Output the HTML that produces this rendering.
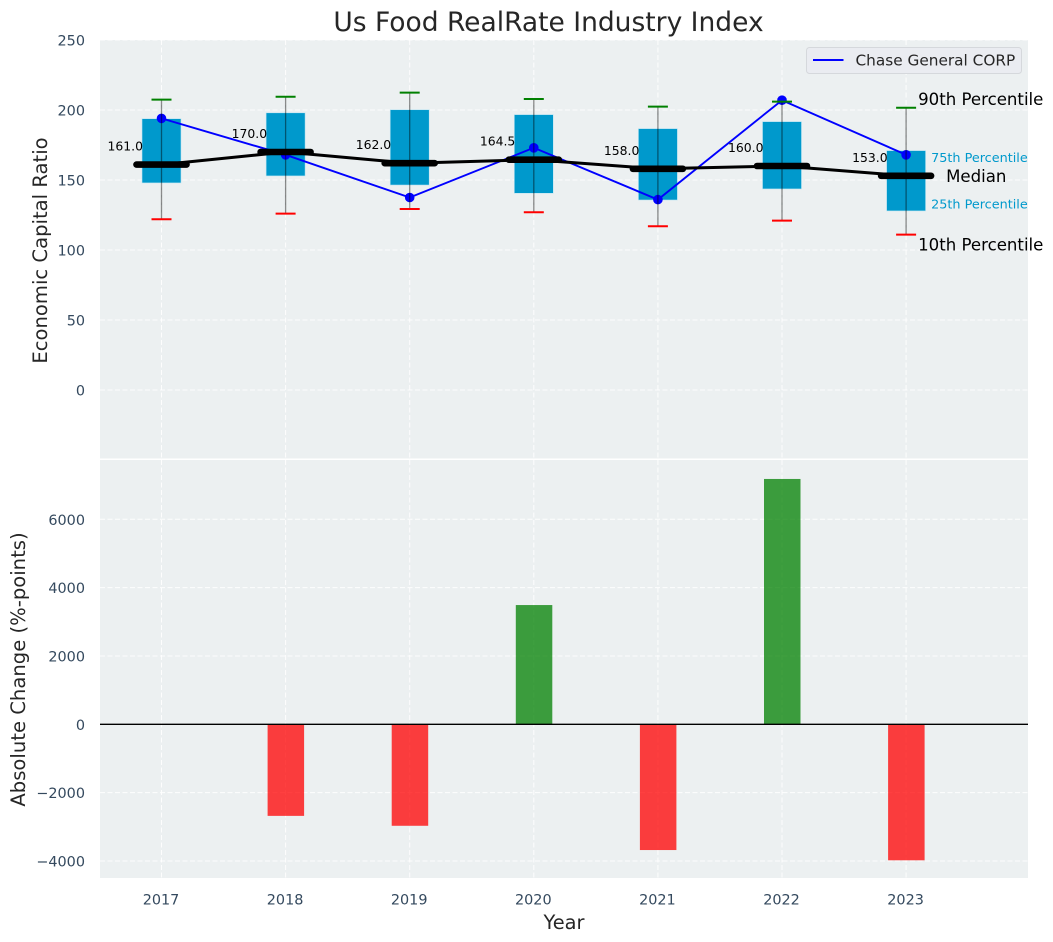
<!DOCTYPE html>
<html>
<head>
<meta charset="utf-8">
<title>Us Food RealRate Industry Index</title>
<style>
html,body{margin:0;padding:0;background:#fff;}
svg{display:block;font-family:"DejaVu Sans","Liberation Sans",sans-serif;}
</style>
</head>
<body>
<svg id="chart" width="1053" height="942" viewBox="0 0 1053 942" xmlns="http://www.w3.org/2000/svg"></svg>
<script>
const years = [2017, 2018, 2019, 2020, 2021, 2022, 2023];
const p90 = [207.4, 209.5, 212.4, 207.9, 202.4, 206, 201.6];
const q3 = [193.8, 198, 200.2, 196.7, 186.7, 191.7, 171];
const median = [161.0, 170.0, 162.0, 164.5, 158.0, 160.0, 153.0];
const q1 = [147.9, 152.9, 146.4, 140.5, 135.7, 143.6, 127.9];
const p10 = [122, 126, 129.3, 127, 117, 121, 111];
const company = [194, 168, 137.5, 173, 136, 207, 168];
const change = [0, -2680, -2970, 3490, -3680, 7180, -3980];
const topTicks = [0, 50, 100, 150, 200, 250];
const bottomTicks = [-4000, -2000, 0, 2000, 4000, 6000];
const companyName = 'Chase General CORP';

const NS = 'http://www.w3.org/2000/svg';
const svg = document.getElementById('chart');
const L = 100, R = 1028;
const topAxis = {t: 40, b: 458.5};
const botAxis = {t: 460, b: 878};
const x = v => 161.5 + (v - 2017) * 124.1;
const yTop = v => 390 - v * 1.4;
const yBot = v => 724.3 - v * 0.03417;

function mk(tag, attrs, name, parent) {
  const el = document.createElementNS(NS, tag);
  for (const k in attrs) el.setAttribute(k, attrs[k]);
  
  
  (parent || svg).appendChild(el);
  return el;
}
function txt(content, attrs, name, parent) {
  const el = mk('text', attrs, name, parent);
  el.textContent = content;
  return el;
}

// panels
mk('rect', {x: L, y: topAxis.t, width: R - L, height: topAxis.b - topAxis.t, fill: '#ecf0f1'}, 'top-panel-background');
mk('rect', {x: L, y: botAxis.t, width: R - L, height: botAxis.b - botAxis.t, fill: '#ecf0f1'}, 'bottom-panel-background');

// grid
const dash = '5,2.5';
years.forEach(function (yr) {
  mk('line', {x1: x(yr), x2: x(yr), y1: topAxis.t, y2: topAxis.b, stroke: '#fff', 'stroke-width': 1, 'stroke-dasharray': dash, opacity: 0.9}, 'top-vertical-gridline-' + yr);
  mk('line', {x1: x(yr), x2: x(yr), y1: botAxis.t, y2: botAxis.b, stroke: '#fff', 'stroke-width': 1, 'stroke-dasharray': dash, opacity: 0.9}, 'bottom-vertical-gridline-' + yr);
  txt(String(yr), {x: x(yr) - 0.5, y: 904.5, 'text-anchor': 'middle', 'font-size': 14.4, fill: '#34495e'}, 'x-tick-label-' + yr);
});
topTicks.forEach(function (t) {
  mk('line', {x1: L, x2: R, y1: yTop(t), y2: yTop(t), stroke: '#fff', 'stroke-width': 1, 'stroke-dasharray': dash, opacity: 0.9}, 'top-horizontal-gridline-' + t);
  txt(String(t), {x: 85, y: yTop(t) + 5.3, 'text-anchor': 'end', 'font-size': 14.4, fill: '#34495e'}, 'top-y-tick-label-' + t);
});
bottomTicks.forEach(function (t) {
  mk('line', {x1: L, x2: R, y1: yBot(t), y2: yBot(t), stroke: '#fff', 'stroke-width': 1, 'stroke-dasharray': dash, opacity: 0.9}, 'bottom-horizontal-gridline-' + t);
  txt(String(t).replace('-', '\u2212'), {x: 85, y: yBot(t) + 5.5, 'text-anchor': 'end', 'font-size': 14.4, fill: '#34495e'}, 'bottom-y-tick-label-' + t);
});

// boxes
years.forEach(function (yr, i) {
  mk('rect', {x: x(yr) - 19.5, y: yTop(q3[i]), width: 39, height: yTop(q1[i]) - yTop(q3[i]), fill: '#0099cc', stroke: '#bfe5f2', 'stroke-width': 0.6}, 'box-' + yr);
});

// company line
mk('polyline', {points: years.map(function (yr, i) { return x(yr) + ',' + yTop(company[i]); }).join(' '), fill: 'none', stroke: '#0000ff', 'stroke-width': 1.9}, 'company-line');
years.forEach(function (yr, i) {
  mk('circle', {cx: x(yr), cy: yTop(company[i]), r: 4.8, fill: '#0000ff'}, 'company-point-' + yr);
});

// whiskers and caps
years.forEach(function (yr, i) {
  mk('line', {x1: x(yr), x2: x(yr), y1: yTop(p90[i]), y2: yTop(p10[i]), stroke: '#000', 'stroke-opacity': 0.45, 'stroke-width': 1.3}, 'whisker-' + yr);
  mk('line', {x1: x(yr) - 10, x2: x(yr) + 10, y1: yTop(p90[i]), y2: yTop(p90[i]), stroke: '#008000', 'stroke-width': 2}, 'p90-cap-' + yr);
  mk('line', {x1: x(yr) - 10, x2: x(yr) + 10, y1: yTop(p10[i]), y2: yTop(p10[i]), stroke: '#ff0000', 'stroke-width': 2}, 'p10-cap-' + yr);
});

// median line
mk('polyline', {points: years.map(function (yr, i) { return x(yr) + ',' + yTop(median[i]); }).join(' '), fill: 'none', stroke: '#000', 'stroke-width': 3}, 'median-line');
years.forEach(function (yr, i) {
  mk('line', {x1: x(yr) - 25, x2: x(yr) + 25, y1: yTop(median[i]), y2: yTop(median[i]), stroke: '#000', 'stroke-width': 6.6, 'stroke-linecap': 'round'}, 'median-marker-' + yr);
  txt(median[i].toFixed(1), {x: x(yr) - 18.5, y: yTop(median[i]) - 14, 'text-anchor': 'end', 'font-size': 12.4, fill: '#000'}, 'median-value-' + yr);
});

// percentile annotations on the last box
const last = years.length - 1;
const xLast = x(years[last]);
txt('90th Percentile', {x: xLast + 12, y: yTop(p90[last]) - 3, 'font-size': 16.6, fill: '#000'}, 'p90-annotation');
txt('10th Percentile', {x: xLast + 12, y: yTop(p10[last]) + 16, 'font-size': 16.6, fill: '#000'}, 'p10-annotation');
txt('Median', {x: xLast + 40, y: yTop(median[last]) + 6, 'font-size': 16.6, fill: '#000'}, 'median-annotation');
txt('75th Percentile', {x: xLast + 25, y: yTop(q3[last]) + 11.5, 'font-size': 12.8, fill: '#0099cc'}, 'p75-annotation');
txt('25th Percentile', {x: xLast + 25, y: yTop(q1[last]) - 2.5, 'font-size': 12.8, fill: '#0099cc'}, 'p25-annotation');

// legend
mk('rect', {x: 806.5, y: 47.5, width: 215, height: 26, rx: 3, fill: '#eaecf1', stroke: '#d5d8dc', 'stroke-width': 1}, 'legend-box');
mk('line', {x1: 813, x2: 843.5, y1: 60, y2: 60, stroke: '#0000ff', 'stroke-width': 1.9}, 'legend-line');
txt(companyName, {x: 855.5, y: 65.5, 'font-size': 15.3, fill: '#262626'}, 'legend-label');

// bars
years.forEach(function (yr, i) {
  if (change[i] === 0) return;
  const y0 = yBot(0), y1 = yBot(change[i]);
  mk('rect', {x: x(yr) - 18, y: Math.min(y0, y1), width: 36.5, height: Math.abs(y1 - y0), fill: change[i] > 0 ? '#008000' : '#ff0000', 'fill-opacity': 0.75}, 'change-bar-' + yr);
});
mk('line', {x1: L, x2: R, y1: yBot(0), y2: yBot(0), stroke: '#000', 'stroke-width': 1.4}, 'zero-line');

// titles
txt('Us Food RealRate Industry Index', {x: 548.5, y: 31, 'text-anchor': 'middle', 'font-size': 26.5, fill: '#262626'}, 'chart-title');
txt('Year', {x: 564, y: 929, 'text-anchor': 'middle', 'font-size': 19.4, fill: '#262626'}, 'x-axis-title');
txt('Economic Capital Ratio', {x: 0, y: 0, transform: 'translate(47,250.5) rotate(-90)', 'text-anchor': 'middle', 'font-size': 19.6, fill: '#262626'}, 'top-y-axis-title');
txt('Absolute Change (%-points)', {x: 0, y: 0, transform: 'translate(25,669.5) rotate(-90)', 'text-anchor': 'middle', 'font-size': 19.6, fill: '#262626'}, 'bottom-y-axis-title');
</script>
</body>
</html>
